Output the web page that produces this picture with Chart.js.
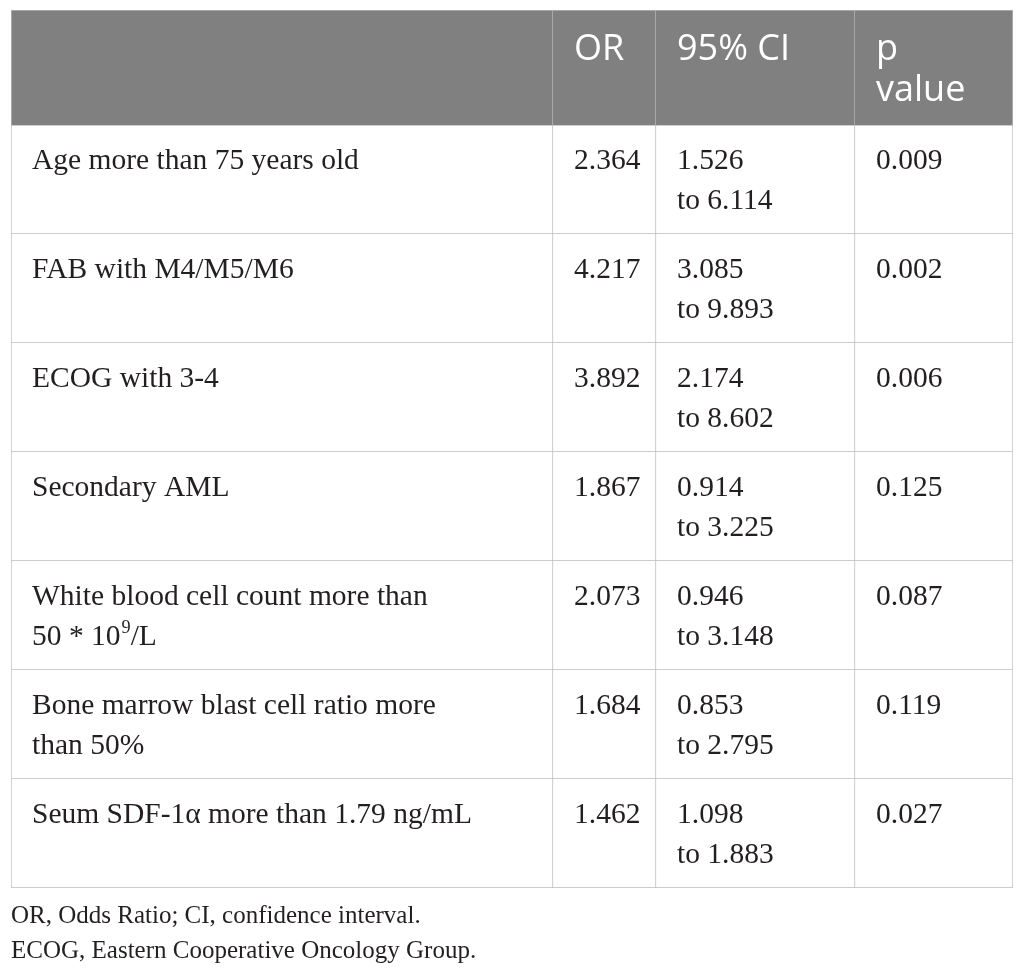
<!DOCTYPE html>
<html>
<head>
<meta charset="utf-8">
<script src="https://cdn.jsdelivr.net/npm/chart.js@4.4.1/dist/chart.umd.min.js"></script>
<style>
  html, body { margin: 0; padding: 0; background: #ffffff; }
  canvas { display: block; }
</style>
</head>
<body>
<canvas id="c" width="1025" height="976"></canvas>
<script>
// ---------------- data ----------------
const headerLabels = ['', 'OR', '95% CI', ['p', 'value']];
const factors = [
  ['Age more than 75 years old'],
  ['FAB with M4/M5/M6'],
  ['ECOG with 3-4'],
  ['Secondary AML'],
  ['White blood cell count more than', '50 * 10^9/L'],
  ['Bone marrow blast cell ratio more', 'than 50%'],
  ['Seum SDF-1\u03B1 more than 1.79 ng/mL']
];
const oddsRatios = [2.364, 4.217, 3.892, 1.867, 2.073, 1.684, 1.462];
const ciLower    = [1.526, 3.085, 2.174, 0.914, 0.946, 0.853, 1.098];
const ciUpper    = [6.114, 9.893, 8.602, 3.225, 3.148, 2.795, 1.883];
const pValues    = [0.009, 0.002, 0.006, 0.125, 0.087, 0.119, 0.027];
const footnotes  = [
  'OR, Odds Ratio; CI, confidence interval.',
  'ECOG, Eastern Cooperative Oncology Group.'
];

// ---------------- layout / style ----------------
const colWidths = [542, 103, 199, 158];
const colStarts = colWidths.map((w, i) => colWidths.slice(0, i).reduce((a, b) => a + b, 0));
const tableWidth = colWidths.reduce((a, b) => a + b, 0);
const HEADER_H = 115;
const HEADER_BG = '#808080';
const HEADER_RULE = '#a8a8a8';
const GRID = '#bdbdbd';
const TEXT = '#231f20';
const PAD_X = 21;
const HEADER_FONT = '"Open Sans", "Lato", sans-serif';
const HEADER_SIZE = 36;
const HEADER_WEIGHT = 400;
const HEADER_BASE = 50;
const HEADER_LINE = 41;
const BODY_FONT = '"Liberation Serif", "Times New Roman", serif';
const BODY_SIZE = 29.5;
const BODY_BASE = 44;
const BODY_LINE = 40;

const bodyCells = [
  factors,
  oddsRatios.map(v => [v.toFixed(3)]),
  ciLower.map((v, i) => [v.toFixed(3), 'to ' + ciUpper[i].toFixed(3)]),
  pValues.map(v => [v.toFixed(3)])
];

function drawRich(ctx, text, x, y, size, family) {
  const parts = text.split(/(\^.)/);
  let cx = x;
  parts.forEach(p => {
    if (!p) return;
    if (p[0] === '^') {
      ctx.font = (size * 0.62) + 'px ' + family;
      ctx.fillText(p[1], cx + 1, y - size * 0.42);
      cx += ctx.measureText(p[1]).width + 1;
    } else {
      ctx.font = size + 'px ' + family;
      ctx.fillText(p, cx, y);
      cx += ctx.measureText(p).width;
    }
  });
}

const tablePlugin = {
  id: 'tableText',
  beforeDatasetsDraw(chart) {
    const { ctx, chartArea, scales: { x } } = chart;
    const top = chartArea.top - HEADER_H;
    ctx.save();
    ctx.fillStyle = HEADER_BG;
    ctx.fillRect(chartArea.left, top, chartArea.right - chartArea.left, HEADER_H);
    ctx.strokeStyle = HEADER_RULE;
    ctx.lineWidth = 1;
    ctx.beginPath();
    colStarts.forEach((s, i) => {
      const px = Math.round(x.getPixelForValue(s)) + (i === 0 ? 0.5 : -0.5);
      ctx.moveTo(px, top);
      ctx.lineTo(px, chartArea.top);
    });
    const rx = Math.round(x.getPixelForValue(tableWidth)) - 0.5;
    ctx.moveTo(rx, top);
    ctx.lineTo(rx, chartArea.top);
    ctx.moveTo(chartArea.left, top + 0.5);
    ctx.lineTo(chartArea.right, top + 0.5);
    ctx.stroke();
    ctx.fillStyle = '#ffffff';
    ctx.font = HEADER_WEIGHT + ' ' + HEADER_SIZE + 'px ' + HEADER_FONT;
    ctx.textBaseline = 'alphabetic';
    ctx.textAlign = 'left';
    headerLabels.forEach((lab, i) => {
      [].concat(lab).forEach((ln, k) => {
        ctx.fillText(ln, x.getPixelForValue(colStarts[i]) + PAD_X, top + HEADER_BASE + k * HEADER_LINE);
      });
    });
    ctx.restore();
  },
  afterDatasetsDraw(chart) {
    const { ctx } = chart;
    ctx.save();
    ctx.fillStyle = TEXT;
    ctx.textBaseline = 'alphabetic';
    ctx.textAlign = 'left';
    chart.data.datasets.forEach((ds, j) => {
      const meta = chart.getDatasetMeta(j);
      meta.data.forEach((el, i) => {
        const p = el.getProps(['x', 'base', 'y', 'height'], true);
        const left = Math.min(p.x, p.base);
        const top = p.y - p.height / 2;
        bodyCells[j][i].forEach((ln, k) => {
          drawRich(ctx, ln, left + PAD_X, top + BODY_BASE + k * BODY_LINE, BODY_SIZE, BODY_FONT);
        });
      });
    });
    ctx.restore();
  }
};

const rowKeys = factors.map(f => f.join(' '));
const datasets = colWidths.map((w, j) => ({
  label: [].concat(headerLabels[j]).join(' ') || 'Factor',
  data: rowKeys.map(() => [colStarts[j], colStarts[j] + w]),
  backgroundColor: '#ffffff',
  borderColor: GRID,
  borderWidth: (c) => ({ top: c.dataIndex === 0 ? 1 : 0, left: j === 0 ? 1 : 0, right: 1, bottom: 1 }),
  borderSkipped: false,
  grouped: false,
  barPercentage: 1,
  categoryPercentage: 1
}));

new Chart(document.getElementById('c'), {
  type: 'bar',
  data: { labels: rowKeys, datasets },
  plugins: [tablePlugin],
  options: {
    indexAxis: 'y',
    responsive: false,
    animation: false,
    layout: { padding: { top: 125, left: 11, right: 12, bottom: 0 } },
    scales: {
      x: { type: 'linear', min: 0, max: tableWidth, display: false },
      y: { type: 'category', display: false, offset: true }
    },
    plugins: {
      legend: { display: false },
      tooltip: { enabled: false },
      title: {
        display: true,
        position: 'bottom',
        align: 'start',
        text: footnotes,
        color: TEXT,
        font: { family: BODY_FONT, size: 25, weight: 'normal', lineHeight: 1.4 },
        padding: { top: 11, bottom: 7 }
      }
    }
  }
});
</script>
</body>
</html>
